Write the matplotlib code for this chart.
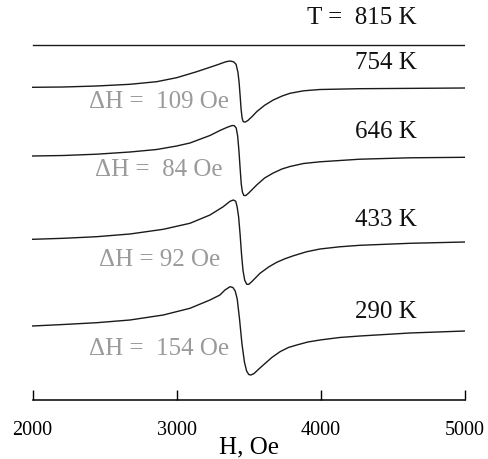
import numpy as np
from matplotlib import pyplot as plt

plt.rcParams['font.family'] = ['Liberation Serif', 'DejaVu Serif']

# pole H (Oe) i sygnał pochodnej absorpcji (j. umowne) dla każdej temperatury
temps = ['T =  815 K', '754 K', '646 K', '433 K', '290 K']
widths = ['', 'ΔH =  109 Oe', 'ΔH =  84 Oe', 'ΔH = 92 Oe', 'ΔH =  154 Oe']
offsets = [354.7, 312.7, 244, 160.7, 74]

h_815 = [2000, 5000]
s_815 = [0, 0]

h_754 = [2000, 2214, 2445, 2676, 2861, 3000, 3139, 3278, 3340, 3370, 3395, 3412, 3425,
         3433, 3440, 3447, 3454, 3462, 3475, 3494, 3525, 3555, 3610, 3670, 3730, 3786,
         3880, 3994, 4271, 5000]
s_754 = [0, 0.3, 1.3, 3, 5.6, 9.6, 15.6, 22.3, 25.5, 26.3, 25.5, 23, 15,
         5, -8, -22, -31, -34.4, -34.8, -33.2, -29, -24.4, -18, -12.7, -8.8, -6,
         -3.5, -2.2, -1.4, -0.7]

h_646 = [2000, 2214, 2445, 2676, 2861, 3000, 3092, 3231, 3300, 3350, 3385, 3400, 3413,
         3423, 3432, 3440, 3448, 3456, 3466, 3480, 3500, 3555, 3610, 3670, 3730, 3786,
         3880, 3994, 4271, 4618, 5000]
s_646 = [0, 0.5, 1.8, 4, 6.5, 10, 13, 20.5, 25.5, 28.7, 30.5, 30.3, 28,
         20, 5, -12, -28, -36, -39.5, -39.5, -37, -29, -22, -17, -13, -10.5,
         -7.5, -5.8, -3.2, -1.8, -1.3]

h_433 = [2000, 2214, 2445, 2676, 2907, 3092, 3231, 3323, 3370, 3393, 3410, 3420, 3430,
         3440, 3450, 3460, 3472, 3486, 3500, 3520, 3578, 3640, 3694, 3750, 3809, 3900,
         3994, 4130, 4271, 4618, 5000]
s_433 = [0, 1, 2.6, 5.3, 10, 16, 24.3, 32.6, 38, 39.3, 38, 32, 22,
         5, -15, -31, -41, -45, -45, -42.5, -34, -27.5, -23, -19.5, -16.5, -12.5,
         -9.7, -7.5, -6, -4, -2.7]

h_290 = [2000, 2214, 2445, 2676, 2907, 3092, 3231, 3300, 3335, 3370, 3390, 3406, 3420,
         3436, 3453, 3470, 3485, 3500, 3515, 3537, 3570, 3601, 3660, 3717, 3775, 3833,
         3910, 3994, 4130, 4271, 4618, 5000]
s_290 = [0, 1.5, 3.3, 6, 11, 17.7, 26, 31, 36, 39.3, 38.5, 35, 27,
         7, -18, -36, -45, -48.5, -49, -47.5, -43, -39, -31.5, -25.7, -21.5, -19,
         -16, -14, -11.5, -10, -7, -5]

pola = [h_815, h_754, h_646, h_433, h_290]
sygnaly = [s_815, s_754, s_646, s_433, s_290]

fig = plt.figure(figsize=(4.89, 4.59), dpi=100)
ax = fig.add_axes([32.5 / 489, 59 / 459, 432.5 / 489, 400 / 459])

for h, s, off in zip(pola, sygnaly, offsets):
    ax.plot(h, np.array(s) + off, color='#1a1a1a', lw=1.0, solid_joinstyle='round')

# podpisy temperatur i szerokości linii
temp_pos = [(416.7, 18.3), (416.7, 63), (416.7, 131.7), (416.7, 220), (416.7, 311.7)]
width_pos = [None, (229, 101.7), (222.7, 170), (220, 260), (229, 349.3)]
for txt, (xp, yp) in zip(temps, temp_pos):
    ax.text(xp / 489, 1 - yp / 459, txt, transform=fig.transFigure, ha='right',
            va='center', fontsize=18, color='#111111')
for txt, pos in zip(widths, width_pos):
    if pos is None:
        continue
    ax.text(pos[0] / 489, 1 - pos[1] / 459, txt, transform=fig.transFigure, ha='right',
            va='center', fontsize=18, color='#9a9a9a')

ax.set_xlim(2000, 5000)
ax.set_ylim(0, 400)
ax.set_xticks([2000, 3000, 4000, 5000])
ax.tick_params(axis='x', direction='in', length=7, width=1, labelsize=14.5, pad=15)
ax.set_yticks([])
for side in ['top', 'right', 'left']:
    ax.spines[side].set_visible(False)
ax.spines['bottom'].set_linewidth(1.1)
ax.set_xlabel('H, Oe', fontsize=18, labelpad=-2.5)

fig.savefig('out.png', dpi=100)
